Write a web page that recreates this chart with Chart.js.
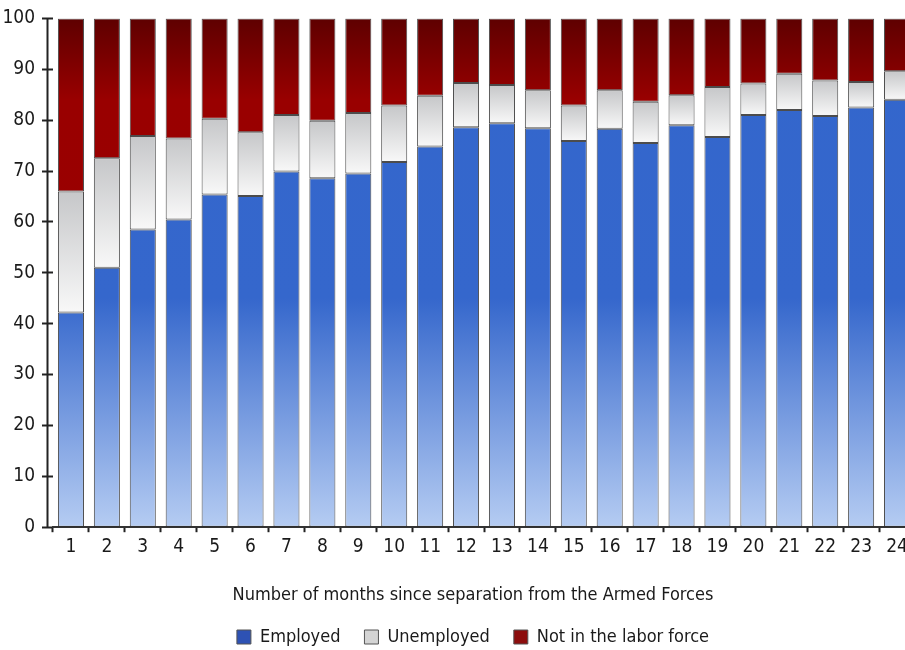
<!DOCTYPE html>
<html>
<head>
<meta charset="utf-8">
<script src="https://cdn.jsdelivr.net/npm/chart.js@4"></script>
<style>
  html, body { margin: 0; padding: 0; background: #fff; overflow: hidden; }
  #wrap { width: 946px; height: 650px; }
</style>
</head>
<body>
<div id="wrap"><canvas id="chart" width="946" height="650"></canvas></div>
<script>
// months since separation
const months = ["1","2","3","4","5","6","7","8","9","10","11","12",
  "13","14","15","16","17","18","19","20","21","22","23","24"];

// percent of veterans in each group
const employed = [42.2, 51.0, 58.5, 60.5, 65.4, 65.1, 69.9, 68.6, 69.5, 71.8, 74.8, 78.6,
  79.4, 78.4, 75.9, 78.3, 75.5, 79.0, 76.7, 81.0, 82.0, 80.8, 82.5, 84.0];
const unemployed = [23.8, 21.5, 18.4, 15.9, 14.9, 12.5, 11.1, 11.3, 11.9, 11.1, 10.0, 8.7,
  7.5, 7.5, 7.0, 7.6, 8.1, 5.9, 9.8, 6.2, 7.1, 7.0, 5.0, 5.6];
const notInLaborForce = [34.0, 27.5, 23.1, 23.6, 19.7, 22.4, 19.0, 20.1, 18.6, 17.1, 15.2, 12.7,
  13.1, 14.1, 17.1, 14.1, 16.4, 15.1, 13.5, 12.8, 10.9, 12.2, 12.5, 10.4];

const yTicks = [0, 10, 20, 30, 40, 50, 60, 70, 80, 90, 100];

const FONT = "'Liberation Sans Narrow', 'DejaVu Sans Condensed', 'Arial Narrow', sans-serif";
const INK = "#1a1a1a";

function blueFill(ctx) {
  const area = ctx.chart.chartArea;
  if (!area) return "#3366cc";
  const g = ctx.chart.ctx.createLinearGradient(0, area.top, 0, area.bottom);
  g.addColorStop(0, "#3366cc");
  g.addColorStop(0.55, "#3567cc");
  g.addColorStop(1, "#b5ccf2");
  return g;
}

function grayFill(ctx) {
  const chart = ctx.chart;
  const y = chart.scales.y;
  if (!chart.chartArea || ctx.dataIndex == null) return "#e0e0e0";
  const lo = employed[ctx.dataIndex];
  const hi = lo + unemployed[ctx.dataIndex];
  const g = chart.ctx.createLinearGradient(0, y.getPixelForValue(hi), 0, y.getPixelForValue(lo));
  g.addColorStop(0, "#c6c7c9");
  g.addColorStop(1, "#f8f8f8");
  return g;
}

function redFill(ctx) {
  const area = ctx.chart.chartArea;
  if (!area) return "#990000";
  const g = ctx.chart.ctx.createLinearGradient(0, area.top, 0, area.bottom);
  g.addColorStop(0, "#5e0000");
  g.addColorStop(0.16, "#990000");
  g.addColorStop(1, "#9b0000");
  return g;
}

const legendColors = ["#2e52b4", "#d4d4d4", "#8c0d0d"];

// vertical axis line sits a little left of the first category
const yAxisLine = {
  id: "yAxisLine",
  afterDatasetsDraw(chart) {
    const { ctx, chartArea } = chart;
    ctx.save();
    ctx.strokeStyle = "#222";
    ctx.lineWidth = 2;
    ctx.beginPath();
    ctx.moveTo(chartArea.left - 5.5, chartArea.top);
    ctx.lineTo(chartArea.left - 5.5, chartArea.bottom);
    ctx.stroke();
    ctx.restore();
  },
};

const common = {
  borderColor: "rgba(45,45,45,0.85)",
  borderWidth: 1,
  borderSkipped: false,
  barPercentage: 0.725,
  categoryPercentage: 1.0,
};

new Chart(document.getElementById("chart"), {
  type: "bar",
  data: {
    labels: months,
    datasets: [
      { label: "Employed", data: employed, backgroundColor: blueFill, ...common },
      { label: "Unemployed", data: unemployed, backgroundColor: grayFill, ...common },
      { label: "Not in the labor force", data: notInLaborForce, backgroundColor: redFill, ...common },
    ],
  },
  plugins: [yAxisLine],
  options: {
    responsive: false,
    animation: false,
    layout: { padding: { top: 5, left: 0, bottom: -6 } },
    plugins: {
      tooltip: { enabled: false },
      legend: {
        position: "bottom",
        title: {
          display: true,
          text: "Number of months since separation from the Armed Forces",
          color: INK,
          font: { family: FONT, size: 18, lineHeight: 1.0 },
          padding: { top: 25, bottom: 0 },
        },
        labels: {
          color: INK,
          font: { family: FONT, size: 18 },
          boxWidth: 14,
          boxHeight: 14,
          padding: 24,
          generateLabels: (chart) =>
            chart.data.datasets.map((ds, i) => ({
              text: ds.label,
              fillStyle: legendColors[i],
              strokeStyle: "#555",
              lineWidth: 1,
              datasetIndex: i,
              hidden: false,
            })),
        },
      },
    },
    scales: {
      x: {
        stacked: true,
        offset: true,
        grid: { offset: true, drawOnChartArea: false, tickLength: 5, tickColor: "#222", tickWidth: 2 },
        border: { display: true, color: "#333", width: 2 },
        ticks: { color: INK, font: { family: FONT, size: 19 }, padding: 3, maxRotation: 0, autoSkip: false },
      },
      y: {
        stacked: true,
        min: 0,
        max: 100,
        afterBuildTicks: (s) => { s.ticks = yTicks.map((v) => ({ value: v })); },
        afterFit: (s) => { s.width = 53; },
        grid: { drawOnChartArea: false, tickLength: 11, tickColor: "#222", tickWidth: 2 },
        border: { display: false },
        ticks: { color: INK, font: { family: FONT, size: 19 }, padding: 7 },
      },
      // empty right-hand box so the plot runs past the window edge like the original
      yRight: {
        position: "right",
        display: true,
        grid: { display: false },
        border: { display: false },
        ticks: { display: false },
        afterFit: (s) => { s.width = 31; },
      },
    },
  },
});
</script>
</body>
</html>
